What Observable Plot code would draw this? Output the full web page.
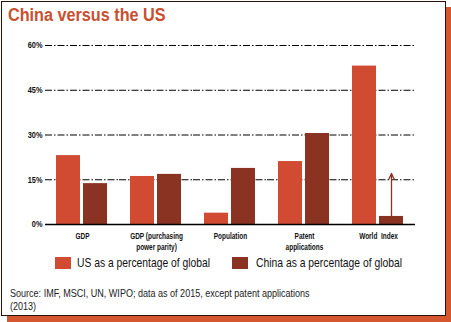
<!DOCTYPE html>
<html><head><meta charset="utf-8">
<script src="https://cdn.jsdelivr.net/npm/d3@7"></script>
<script src="https://cdn.jsdelivr.net/npm/@observablehq/plot@0.6"></script>
<style>
body{margin:0;background:#fff;}
#wrap{position:relative;width:451px;height:322px;overflow:hidden;font-family:"Liberation Sans","DejaVu Sans",sans-serif;color:#111;}
#frame{position:absolute;left:1px;top:1px;width:443px;height:313px;border:1px solid #2b1108;box-shadow:6px 6px 0 #d4572f;background:#fff;}
#title{position:absolute;left:8px;top:5px;font-weight:bold;font-size:18px;color:#c9502f;white-space:nowrap;transform:scaleX(0.9);transform-origin:0 0;}
#chart{position:absolute;left:0;top:30px;}
.sw{position:absolute;top:257px;width:16px;height:12px;}
.lt{position:absolute;top:255px;font-size:13.5px;line-height:16px;white-space:nowrap;transform-origin:0 0;color:#111;}
#source{position:absolute;left:10px;top:287px;font-size:10.5px;line-height:13px;color:#222;white-space:nowrap;transform:scaleX(0.86);transform-origin:0 0;}
</style></head>
<body>
<div id="wrap">
  <div id="frame"></div>
  <div id="title">China versus the US</div>
  <div id="chart"></div>
  <div id="legend"></div>
  <div id="source">Source: IMF, MSCI, UN, WIPO; data as of 2015, except patent applications<br>(2013)</div>
</div>
<script>
const categories = ["GDP", "GDP (purchasing power parity)", "Population", "Patent applications", "World Index"];
const categoryLabels = ["GDP", "GDP (purchasing\npower parity)", "Population", "Patent\napplications", "World  Index"];
const seriesKeys = ["US", "China"];
const seriesNames = ["US as a percentage of global", "China as a percentage of global"];
const usValues = [23.1, 16.1, 3.8, 21.1, 53.1];
const chinaValues = [13.7, 16.8, 18.8, 30.5, 2.7];
const yTicks = [0, 15, 30, 45, 60];
const arrowCategory = "World Index";
const arrowStart = 2.7;
const arrowEnd = 17.1;

const colors = ["#d04b31", "#8a3322"];
const font = '"Liberation Sans","DejaVu Sans",sans-serif';

const data = categories.flatMap((c, i) => [
  {cat: c, s: seriesKeys[0], v: usValues[i]},
  {cat: c, s: seriesKeys[1], v: chinaValues[i]}
]);
const labelMap = new Map(categories.map((c, i) => [c, categoryLabels[i]]));

const chart = Plot.plot({
  width: 430, height: 225,
  marginLeft: 45, marginRight: 15, marginTop: 15, marginBottom: 31,
  style: {fontFamily: font, fontSize: "9px", background: "transparent", color: "#111", overflow: "visible"},
  fx: {domain: categories, padding: 0, axis: null, label: null},
  x: {domain: seriesKeys, paddingInner: 0.107, paddingOuter: 0.375, axis: null, label: null},
  y: {domain: [0, 60], axis: null, label: null},
  color: {domain: seriesKeys, range: colors},
  marks: [
    Plot.ruleY(yTicks.filter(d => d > 0), {stroke: "#000", strokeWidth: 1, strokeDasharray: "7,2,1.5,2"}),
    Plot.barY(data, {fx: "cat", x: "s", y: "v", fill: "s"}),
    Plot.ruleY([0], {stroke: "#000", strokeWidth: 1.3}),
    Plot.arrow([{cat: arrowCategory, s: seriesKeys[1], y1: arrowStart, y2: arrowEnd}],
      {fx: "cat", x: "s", y1: "y1", y2: "y2", stroke: colors[1], strokeWidth: 1.3, headLength: 7, headAngle: 50}),
    Plot.axisY({ticks: yTicks, tickSize: 0, tickPadding: 3, tickFormat: d => d + "%", fontWeight: "bold", label: null}),
    Plot.axisFx({anchor: "bottom", tickSize: 0, tickPadding: 7, tickFormat: d => labelMap.get(d), fontWeight: "bold", label: null, lineHeight: 1.2})
  ]
});
document.getElementById("chart").appendChild(chart);

// condense tick label text horizontally (narrow typeface look)
d3.select(chart).selectAll('g[aria-label="fx-axis tick label"] text').each(function() {
  const t = this.getAttribute("transform") || "";
  this.setAttribute("transform", t + " scale(0.72,1)");
});
d3.select(chart).selectAll('g[aria-label="y-axis tick label"] text').each(function() {
  const t = this.getAttribute("transform") || "";
  this.setAttribute("transform", t + " scale(0.82,1)");
});

// legend: swatch + condensed label fitted to the reference widths
const legendLayout = [{sw: 55, text: 77, w: 133}, {sw: 232, text: 256, w: 146}];
const legend = document.getElementById("legend");
seriesNames.forEach((name, i) => {
  const sw = document.createElement("div");
  sw.className = "sw"; sw.style.left = legendLayout[i].sw + "px"; sw.style.background = colors[i];
  const t = document.createElement("div");
  t.className = "lt"; t.style.left = legendLayout[i].text + "px"; t.textContent = name;
  legend.appendChild(sw); legend.appendChild(t);
  const natural = t.getBoundingClientRect().width;
  t.style.transform = `scaleX(${legendLayout[i].w / natural})`;
});
</script>
</body></html>
